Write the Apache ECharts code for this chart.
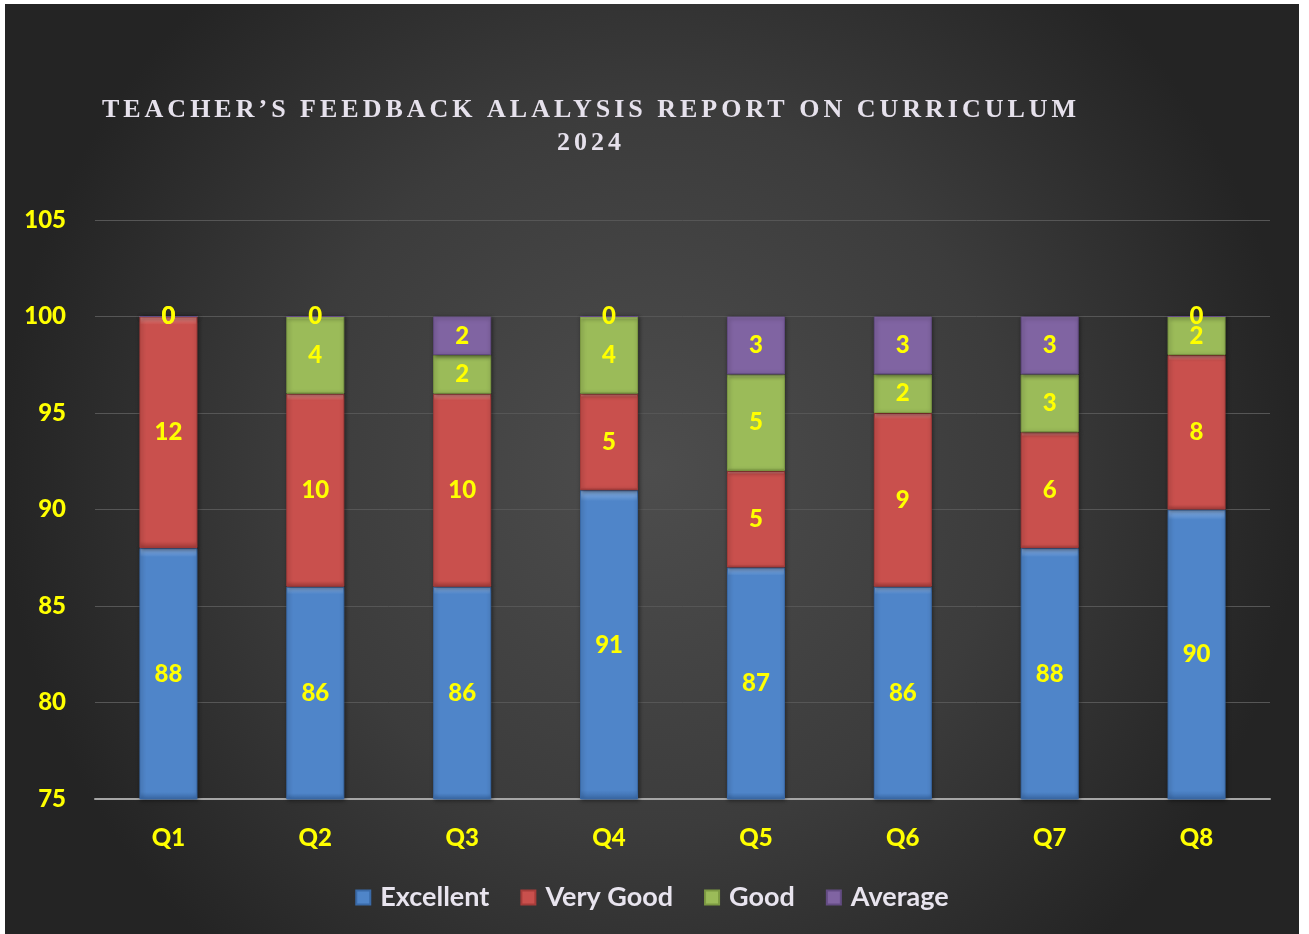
<!DOCTYPE html>
<html>
<head>
<meta charset="utf-8">
<script src="https://cdn.jsdelivr.net/npm/echarts@6/dist/echarts.min.js"></script>
<style>
  html, body { margin: 0; padding: 0; background: #ffffff; }
  #chart { position: absolute; left: 5px; top: 4px; width: 1294px; height: 930px; }
</style>
</head>
<body>
<div id="chart"></div>
<script>
// ---- data ----
const categories = ['Q1', 'Q2', 'Q3', 'Q4', 'Q5', 'Q6', 'Q7', 'Q8'];
const excellent = [88, 86, 86, 91, 87, 86, 88, 90];
const veryGood  = [12, 10, 10, 5, 5, 9, 6, 8];
const good      = [0, 4, 2, 4, 5, 2, 3, 2];
const average   = [0, 0, 2, 0, 3, 3, 3, 0];
const seriesNames = ['Excellent', 'Very Good', 'Good', 'Average'];
const yMin = 75, yMax = 105, yStep = 5;
const titleText = 'TEACHER\u2019S FEEDBACK ALALYSIS REPORT ON CURRICULUM\n2024';

// letter spacing for serif title text only
(function () {
  const proto = CanvasRenderingContext2D.prototype;
  const orig = proto.fillText;
  proto.fillText = function (t, x, y, w) {
    if ('letterSpacing' in this) {
      this.letterSpacing = (this.font && this.font.indexOf('Liberation Serif') >= 0) ? '4px' : '0px';
    }
    return w === undefined ? orig.call(this, t, x, y) : orig.call(this, t, x, y, w);
  };
})();

const palette = [
  { base: '#4f85c9', light: '#8db4e6', dark: '#3a6aa8' },
  { base: '#c9504d', light: '#e89290', dark: '#a63c3a' },
  { base: '#9bbb59', light: '#c9e08e', dark: '#7d9a43' },
  { base: '#8064a2', light: '#ac94c9', dark: '#644c84' }
];

function barStyle(p) {
  return {
    color: new echarts.graphic.LinearGradient(0, 0, 0, 1, [
      { offset: 0, color: p.light },
      { offset: 0.035, color: p.base },
      { offset: 0.97, color: p.base },
      { offset: 1, color: p.dark }
    ]),
    borderColor: p.dark,
    borderWidth: 1,
    shadowColor: 'rgba(0,0,0,0.45)',
    shadowBlur: 4,
    shadowOffsetX: 1,
    shadowOffsetY: 1
  };
}

const dataSets = [excellent, veryGood, good, average];
const series = dataSets.map((d, i) => ({
  name: seriesNames[i],
  type: 'bar',
  stack: 'total',
  barWidth: 58,
  data: d,
  itemStyle: barStyle(palette[i]),
  label: {
    show: true,
    position: 'inside',
    color: '#ffff00',
    fontFamily: 'Lato',
    fontWeight: 900,
    fontSize: 24
  },
  emphasis: { disabled: true }
}));

const chart = echarts.init(document.getElementById('chart'), null, { renderer: 'canvas' });
chart.setOption({
  animation: false,
  backgroundColor: new echarts.graphic.RadialGradient(0.5, 0.5, 0.7, [
    { offset: 0, color: '#4d4d4d' },
    { offset: 0.55, color: '#3c3c3c' },
    { offset: 1, color: '#242424' }
  ]),
  graphic: [{
    type: 'text',
    x: 586,
    y: 90,
    style: {
      text: titleText,
      fill: '#e6e1ec',
      font: 'bold 26px "Liberation Serif"',
      textAlign: 'center',
      textVerticalAlign: 'top',
      lineHeight: 33
    }
  }],
  legend: {
    data: seriesNames,
    top: 875,
    left: 'center',
    icon: 'rect',
    itemWidth: 14,
    itemHeight: 14,
    itemGap: 31,
    textStyle: { color: '#e8e4ee', fontFamily: 'Lato', fontWeight: 'bold', fontSize: 27, padding: [0, 0, 0, 5] }
  },
  grid: { left: 90, right: 29, top: 216, bottom: 135, containLabel: false },
  xAxis: {
    type: 'category',
    data: categories,
    axisLine: { lineStyle: { color: '#a6a6a6', width: 2 } },
    axisTick: { show: false },
    axisLabel: { color: '#ffff00', fontFamily: 'Lato', fontWeight: 900, fontSize: 24, margin: 27 }
  },
  yAxis: {
    type: 'value',
    min: yMin,
    max: yMax,
    interval: yStep,
    axisLine: { show: false },
    axisTick: { show: false },
    axisLabel: { color: '#ffff00', fontFamily: 'Lato', fontWeight: 900, fontSize: 24, margin: 29 },
    splitLine: { lineStyle: { color: '#565656', width: 1 } }
  },
  series: series
});
</script>
</body>
</html>
